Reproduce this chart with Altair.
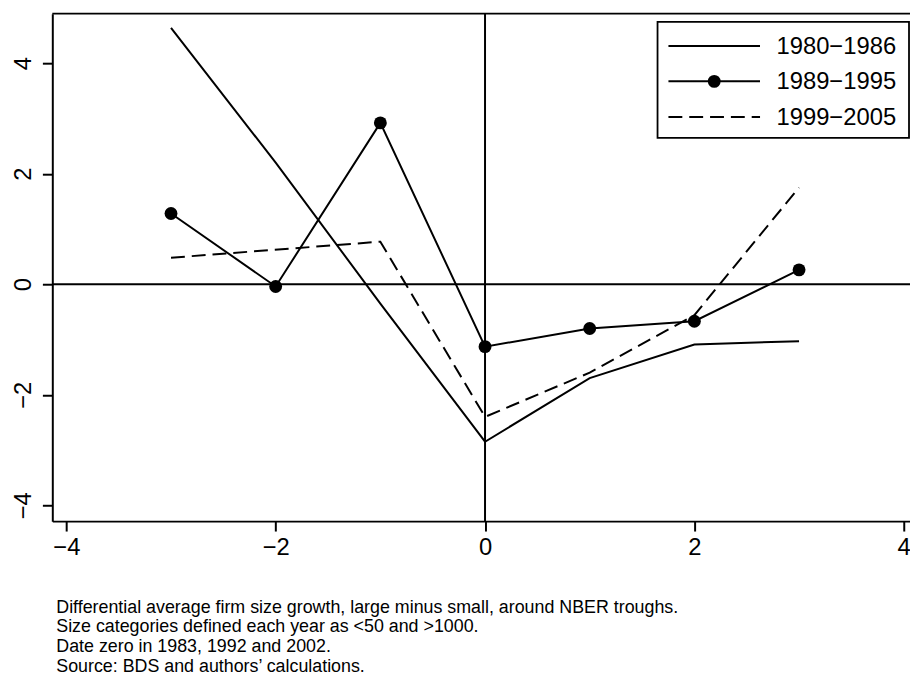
import altair as alt
import pandas as pd

# ---- data ----
event_time = [-3, -2, -1, 0, 1, 2, 3]
names = ["1980−1986", "1989−1995", "1999−2005"]
s1980 = [4.64, 2.20, -0.35, -2.85, -1.70, -1.09, -1.03]
s1989 = [1.28, -0.04, 2.92, -1.13, -0.80, -0.67, 0.26]
t1999 = [-3, -1, 0, 1, 2, 3]
s1999 = [0.48, 0.77, -2.40, -1.60, -0.56, 1.75]
tick_vals = [-4, -2, 0, 2, 4]
footer = [
    "Differential average firm size growth, large minus small, around NBER troughs.",
    "Size categories defined each year as <50 and >1000.",
    "Date zero in 1983, 1992 and 2002.",
    "Source: BDS and authors’ calculations.",
]

df1 = pd.DataFrame({"t": event_time, "v": s1980})
df2 = pd.DataFrame({"t": event_time, "v": s1989})
df3 = pd.DataFrame({"t": t1999, "v": s1999})
zero = pd.DataFrame({"z": [0]})

W, H = 865.3, 512
FONT = "Liberation Sans"
minus_expr = "datum.value < 0 ? '−' + abs(datum.value) : '' + datum.value"

xs = alt.Scale(domain=[-4.134, 4.06], nice=False, zero=False)
ys = alt.Scale(domain=[-4.287, 4.897], nice=False, zero=False)
x_enc = alt.X("t:Q", scale=xs, title=None,
              axis=alt.Axis(values=tick_vals, labelExpr=minus_expr, grid=False,
                            tickSize=10, labelPadding=5))
y_enc = alt.Y("v:Q", scale=ys, title=None,
              axis=alt.Axis(values=tick_vals, labelExpr=minus_expr, grid=False,
                            tickSize=10, labelAngle=270, labelAlign="center",
                            labelBaseline="alphabetic", labelPadding=12))

line1 = alt.Chart(df1).mark_line(color="black", strokeWidth=2).encode(x=x_enc, y=y_enc)
line2 = alt.Chart(df2).mark_line(color="black", strokeWidth=2).encode(x=x_enc, y=y_enc)
pts2 = alt.Chart(df2).mark_point(filled=True, color="black", size=169, opacity=1).encode(x=x_enc, y=y_enc)
line3 = alt.Chart(df3).mark_line(color="black", strokeWidth=2, strokeDash=[14, 7]).encode(x=x_enc, y=y_enc)

hzero = alt.Chart(zero).mark_rule(color="black", strokeWidth=2).encode(y=alt.Y("z:Q", scale=ys))
vzero = alt.Chart(zero).mark_rule(color="black", strokeWidth=2).encode(x=alt.X("z:Q", scale=xs))
top_border = alt.Chart(zero).mark_rule(color="black", strokeWidth=2).encode(
    x=alt.value(0), x2=alt.value(W), y=alt.value(0))

# ---- legend (drawn by hand, Stata style) ----
lg_box = alt.Chart(zero).mark_rect(fill="white", stroke="black", strokeWidth=1.8).encode(
    x=alt.value(610.6), x2=alt.value(864.3), y=alt.value(8.3), y2=alt.value(125.3))
rows_y = [32.6, 68.3, 104.3]
legend_layers = [lg_box]
for i, (nm, ry) in enumerate(zip(names, rows_y)):
    dash = [14, 7] if i == 2 else [1, 0]
    legend_layers.append(
        alt.Chart(zero).mark_rule(color="black", strokeWidth=2, strokeDash=dash).encode(
            x=alt.value(621.6), x2=alt.value(714), y=alt.value(ry)))
    legend_layers.append(
        alt.Chart(zero).mark_text(align="left", baseline="middle", font=FONT, fontSize=24,
                                  color="black").encode(
            x=alt.value(730.6), y=alt.value(ry + 1), text=alt.value(nm)))
legend_layers.append(
    alt.Chart(zero).mark_point(filled=True, color="black", size=169, opacity=1).encode(
        x=alt.value(667.8), y=alt.value(rows_y[1])))

foot = alt.Chart(zero).mark_text(align="left", baseline="alphabetic", font=FONT, fontSize=18,
                                 lineHeight=20, color="black").encode(
    x=alt.value(4), y=alt.value(604.3), text=alt.value(footer))

chart = alt.layer(
    hzero, vzero, top_border, line1, line2, pts2, line3, *legend_layers, foot
).properties(
    width=W, height=H,
    autosize=alt.AutoSizeParams(type="none"),
    padding={"left": 44.7, "top": 2.7, "right": 0, "bottom": 159},
    background="white",
).configure_view(stroke=None).configure_axis(
    domainColor="black", domainWidth=2, tickColor="black", tickWidth=2,
    labelFont=FONT, labelFontSize=24, labelColor="black",
    labelFlush=False, labelOverlap=False, labelBound=False,
)

chart.save("out.html", embed_options={"renderer": "svg", "actions": False})
